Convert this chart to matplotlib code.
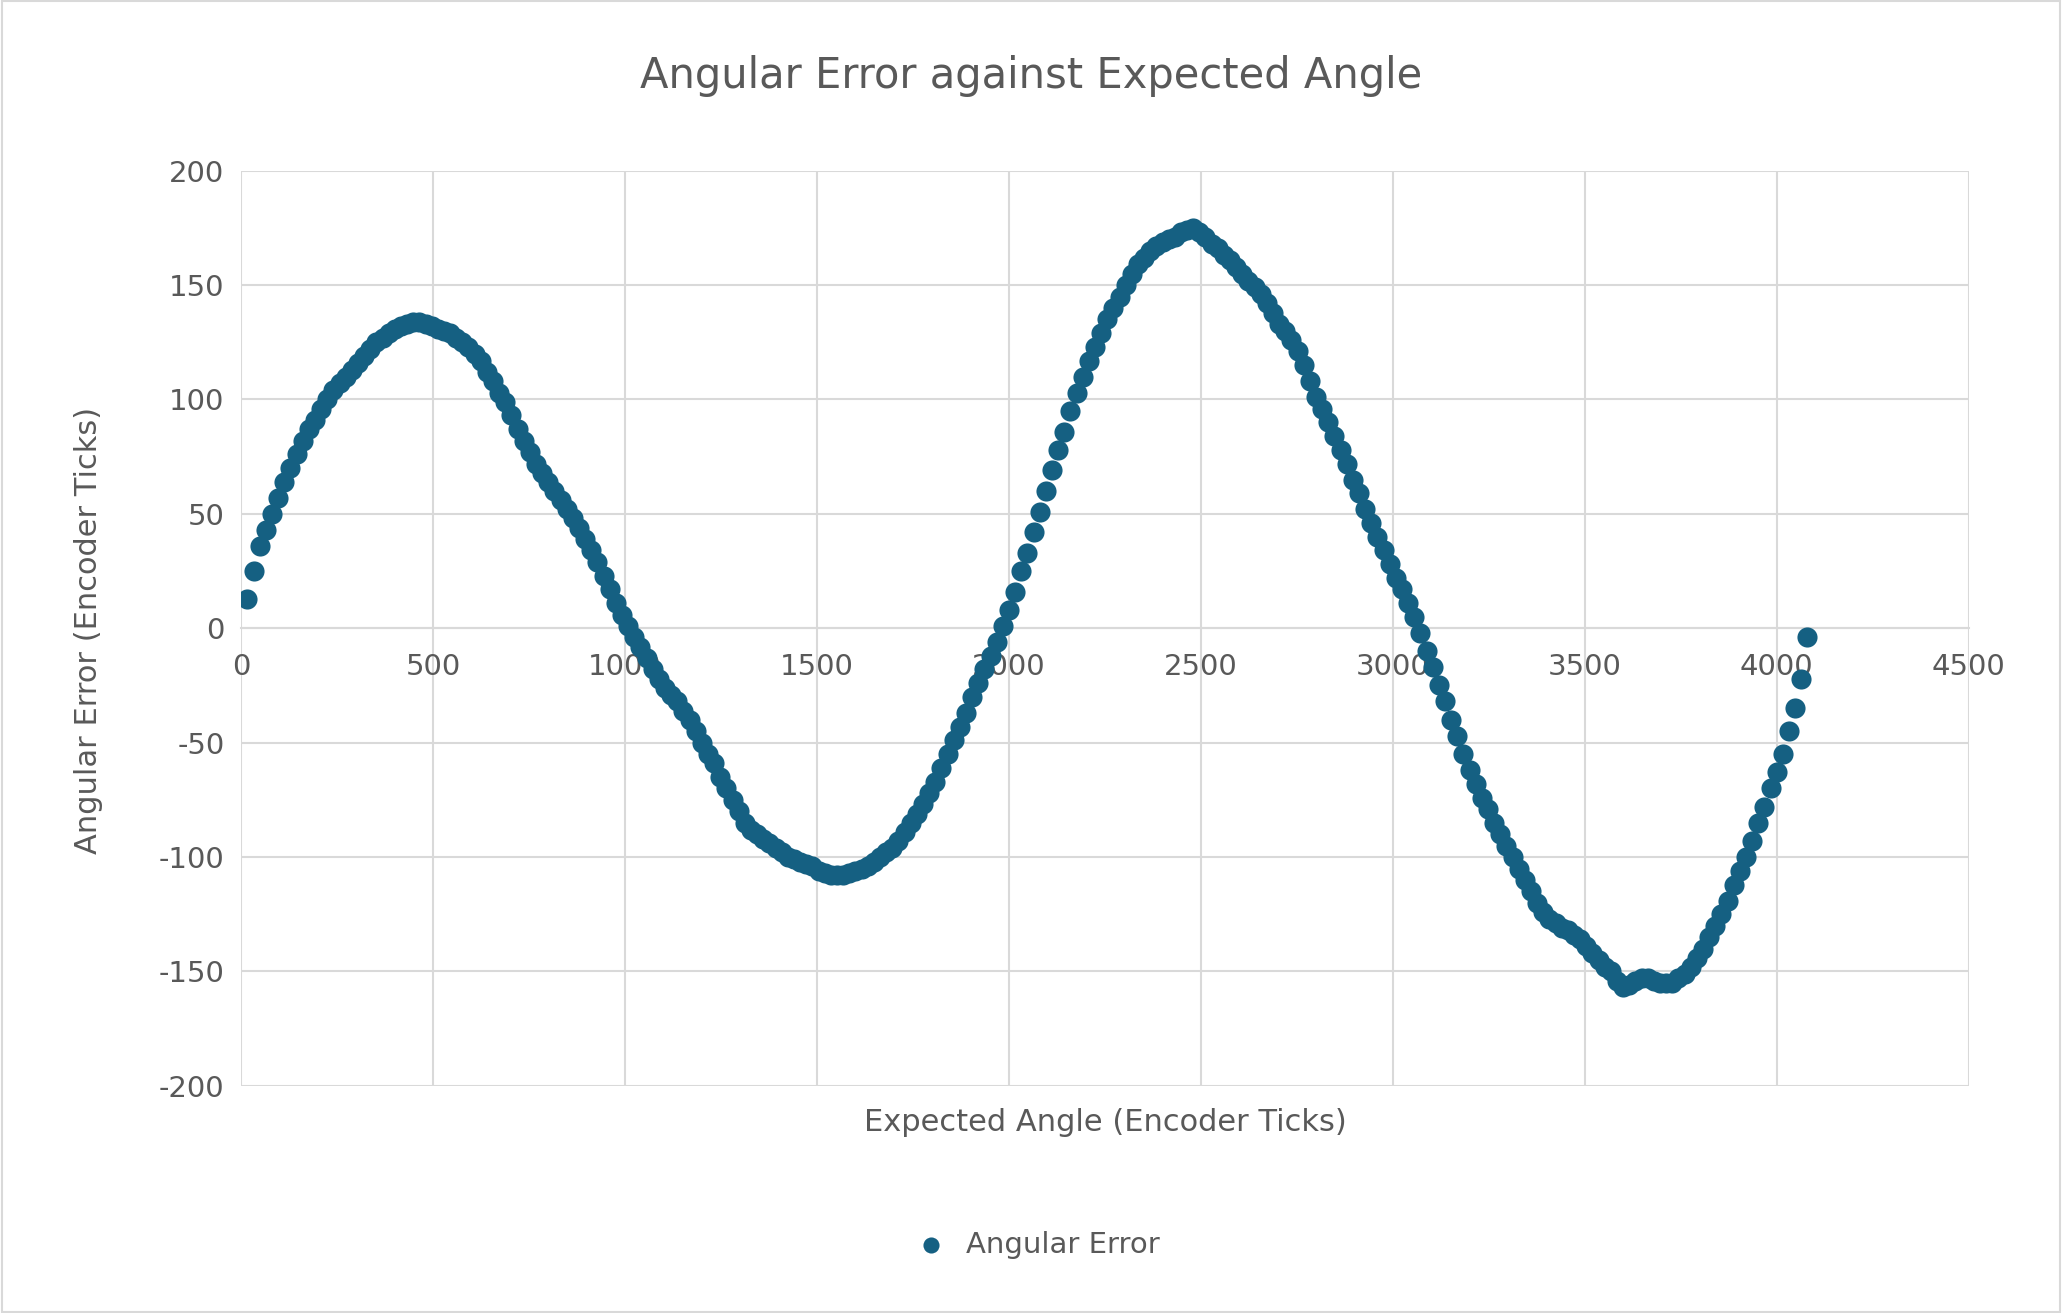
import matplotlib
matplotlib.use("Agg")
import matplotlib.pyplot as plt
from matplotlib.patches import Rectangle

plt.rcParams["axes.unicode_minus"] = False

# readings at 16, 48, 80, ... (step 32)
errors_a = [13,36,50,64,76,87,96,104,110,116,122,127,131,133,134,132,130,127,123,117,
            108,99,87,77,68,60,52,44,34,23,11,1,-8,-18,-26,-32,-40,-50,-59,-70,
            -80,-88,-92,-96,-100,-102,-104,-107,-108,-107,-105,-102,-98,-93,-85,-77,-67,-55,-43,-30,
            -18,-6,8,25,42,60,78,95,110,123,135,145,155,162,167,170,173,175,171,166,
            161,155,149,142,133,126,115,101,90,78,65,52,40,28,17,5,-10,-25,-40,-55,
            -68,-79,-90,-100,-110,-120,-127,-131,-134,-139,-145,-150,-157,-154,-153,-155,-155,-151,-144,-135,
            -125,-112,-100,-85,-70,-55,-35,-4]
# readings at 32, 64, 96, ... (step 32)
errors_b = [25,43,57,70,82,91,100,107,113,119,125,129,132,134,133,131,129,125,120,112,
            103,93,82,72,64,56,48,39,29,17,6,-4,-13,-22,-29,-36,-45,-55,-65,-75,
            -85,-90,-94,-98,-101,-103,-106,-108,-108,-106,-104,-100,-96,-89,-81,-72,-61,-49,-37,-24,
            -12,1,16,33,51,69,86,103,117,129,140,150,159,165,169,171,174,173,168,163,
            158,152,146,138,130,121,108,96,84,72,59,46,34,22,11,-2,-17,-32,-47,-62,
            -74,-85,-95,-105,-115,-124,-129,-132,-136,-142,-148,-154,-156,-153,-154,-155,-153,-148,-140,-130,
            -119,-106,-93,-78,-63,-45,-22]
angles_a = [16 + 32 * i for i in range(len(errors_a))]
angles_b = [32 + 32 * i for i in range(len(errors_b))]
pairs = sorted(zip(angles_a + angles_b, errors_a + errors_b))
angles = [p[0] for p in pairs]
errors = [p[1] for p in pairs]

x_ticks = [0,500,1000,1500,2000,2500,3000,3500,4000,4500]
y_ticks = [-200,-150,-100,-50,0,50,100,150,200]

TXT = "#595959"
GRID = "#d9d9d9"
COL = "#156082"

fig = plt.figure(figsize=(20.62, 13.13), dpi=100)
fig.patches.append(Rectangle((0.001, 0.001), 0.998, 0.998, transform=fig.transFigure,
                             fill=False, edgecolor=GRID, linewidth=1.5))
ax = fig.add_axes([0.117, 0.173, 0.8377, 0.697])
ax.scatter(angles, errors, s=210, color=COL, zorder=3, label="Angular Error", linewidths=0)
ax.set_xlim(0, 4500)
ax.set_ylim(-200, 200)
ax.set_xticks(x_ticks)
ax.set_yticks(y_ticks)
ax.grid(True, color=GRID, linewidth=1.5, zorder=0)
for s in ["top", "right", "left"]:
    ax.spines[s].set_visible(False)
ax.spines["bottom"].set_position(("data", 0))
ax.spines["bottom"].set_color(GRID)
ax.spines["bottom"].set_linewidth(1.5)
ax.tick_params(length=0, labelsize=21, colors=TXT, pad=12)
ax.tick_params(axis="x", pad=18)

fig.text(0.5, 0.942, "Angular Error against Expected Angle", ha="center", va="center",
         fontsize=30, color=TXT)
fig.text(0.536, 0.145, "Expected Angle (Encoder Ticks)", ha="center", va="center",
         fontsize=22, color=TXT)
fig.text(0.043, 0.52, "Angular Error (Encoder Ticks)", ha="center", va="center",
         fontsize=22, color=TXT, rotation=90)
fig.legend(loc="center", bbox_to_anchor=(0.5, 0.052), frameon=False, fontsize=21,
           labelcolor=TXT, markerscale=0.8, handletextpad=0.2)

fig.savefig("out.png", dpi=100)
